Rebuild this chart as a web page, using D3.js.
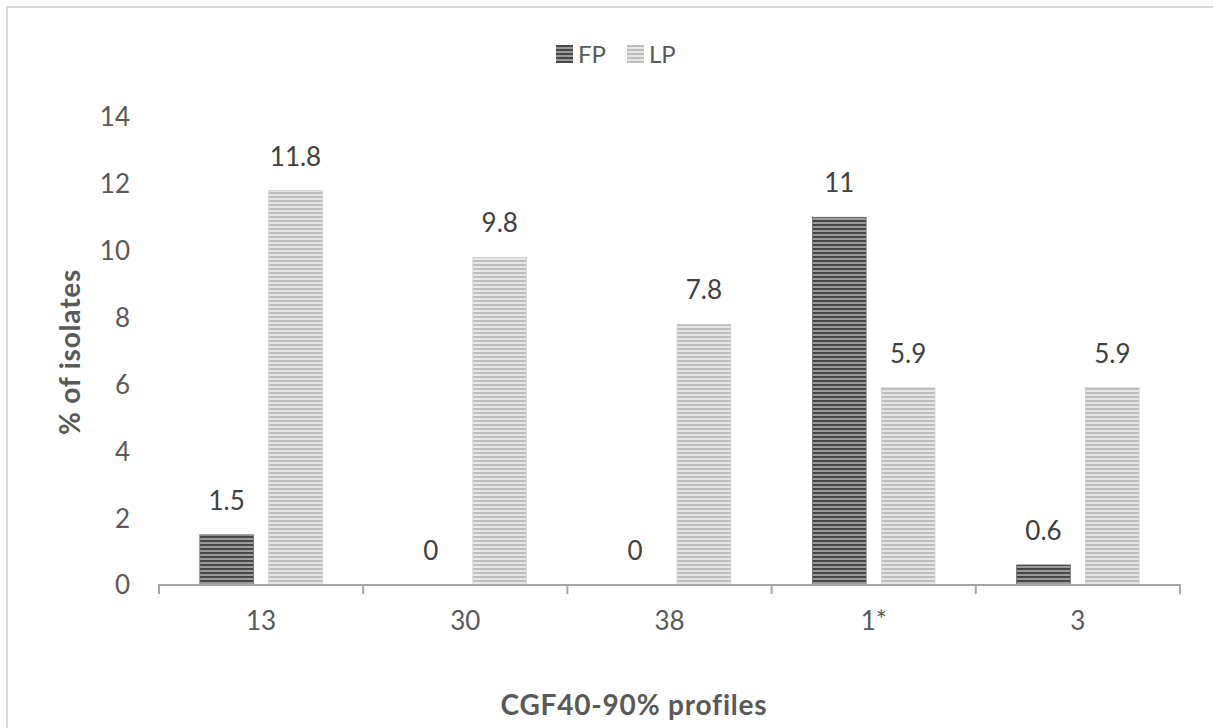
<!DOCTYPE html>
<html><head><meta charset="utf-8">
<script src="https://cdn.jsdelivr.net/npm/d3@7"></script>
<style>body{margin:0;background:#fff}svg{display:block}text{font-family:Lato,"Open Sans","Liberation Sans",sans-serif}</style>
</head><body><svg id="c" width="1213" height="728"></svg>
<script>
const categories = ["13","30","38","1*","3"];
const seriesNames = ["FP","LP"];
const fpValues = [1.5, 0, 0, 11, 0.6];
const lpValues = [11.8, 9.8, 7.8, 5.9, 5.9];
const yTicks = [0,2,4,6,8,10,12,14];
const xTitle = "CGF40-90% profiles";
const yTitle = "% of isolates";

const svg = d3.select("#c");
const W = 1213, H = 728;
const m = {left:159, right:1180, top:117, bottom:585};
const FS = 26;

// frame border
svg.append("rect").attr("x",7).attr("y",7).attr("width",W+10).attr("height",H+10)
  .attr("fill","none").attr("stroke","#d9d9d9").attr("stroke-width",2);

const defs = svg.append("defs");
function pat(id, bg, fg){
  const p = defs.append("pattern").attr("id",id).attr("patternUnits","userSpaceOnUse")
    .attr("width",8).attr("height",4);
  p.append("rect").attr("width",8).attr("height",4).attr("fill",bg);
  p.append("rect").attr("width",8).attr("height",2).attr("fill",fg);
}
pat("pFP","#9a9a9a","#474747");
pat("pLP","#e6e6e6","#bdbdbd");

const x0 = d3.scaleBand().domain(categories).range([m.left, m.right]);
const x1 = d3.scaleBand().domain(seriesNames).range([x0.bandwidth()*0.2, x0.bandwidth()*0.8]).paddingInner(0.22);
const y = d3.scaleLinear().domain([0,14]).range([m.bottom, m.top]);

const data = categories.map((c,i)=>({c, vals:[{s:"FP",v:fpValues[i]},{s:"LP",v:lpValues[i]}]}));

const g = svg.append("g").selectAll("g").data(data).join("g")
  .attr("transform",d=>`translate(${x0(d.c)},0)`);
g.selectAll("rect").data(d=>d.vals).join("rect")
  .attr("x",d=>x1(d.s)).attr("width",x1.bandwidth())
  .attr("y",d=>y(d.v)).attr("height",d=>y(0)-y(d.v))
  .attr("fill",d=>d.s==="FP"?"url(#pFP)":"url(#pLP)")
  .attr("stroke",d=>d.s==="FP"?"#666":"#cfcfcf").attr("stroke-width",0.8);
g.selectAll("text").data(d=>d.vals).join("text")
  .attr("x",d=>x1(d.s)+x1.bandwidth()/2).attr("y",d=>y(d.v)-25)
  .attr("text-anchor","middle").attr("font-size",FS).attr("fill","#404040")
  .text(d=>d.v);

// x axis
const xa = svg.append("g").attr("transform",`translate(0,${m.bottom})`);
xa.append("line").attr("x1",m.left-1).attr("x2",m.right+1).attr("stroke","#a6a6a6").attr("stroke-width",2);
const bounds = categories.map(c=>x0(c)).concat([m.right]);
xa.selectAll("line.t").data(bounds).join("line").attr("class","t")
  .attr("x1",d=>d).attr("x2",d=>d).attr("y1",0).attr("y2",9).attr("stroke","#a6a6a6").attr("stroke-width",2);
xa.selectAll("text").data(categories).join("text")
  .attr("x",d=>x0(d)+x0.bandwidth()/2).attr("y",45).attr("text-anchor","middle")
  .attr("font-size",FS).attr("fill","#595959").text(d=>d);

// y axis labels
svg.append("g").selectAll("text").data(yTicks).join("text")
  .attr("x",130).attr("y",d=>y(d)).attr("dy","0.36em").attr("text-anchor","end")
  .attr("font-size",FS).attr("fill","#595959").text(d=>d);

// titles
svg.append("text").attr("x",634).attr("y",715).attr("text-anchor","middle")
  .attr("font-size",28).attr("letter-spacing",0.8).attr("font-weight","bold").attr("fill","#595959").text(xTitle);
svg.append("text").attr("transform",`translate(80,${(m.top+m.bottom)/2+1}) rotate(-90)`)
  .attr("text-anchor","middle").attr("font-size",28).attr("letter-spacing",0.8).attr("font-weight","bold").attr("fill","#595959").text(yTitle);

// legend
const lg = svg.append("g").attr("transform","translate(556,45)");
seriesNames.forEach((s,i)=>{
  const gg = lg.append("g").attr("transform",`translate(${i*71},0)`);
  gg.append("rect").attr("width",17).attr("height",18).attr("fill",s==="FP"?"url(#pFP)":"url(#pLP)");
  gg.append("text").attr("x",22).attr("y",9).attr("dy","0.36em").attr("font-size",FS-2).attr("fill","#595959").text(s);
});
</script></body></html>
